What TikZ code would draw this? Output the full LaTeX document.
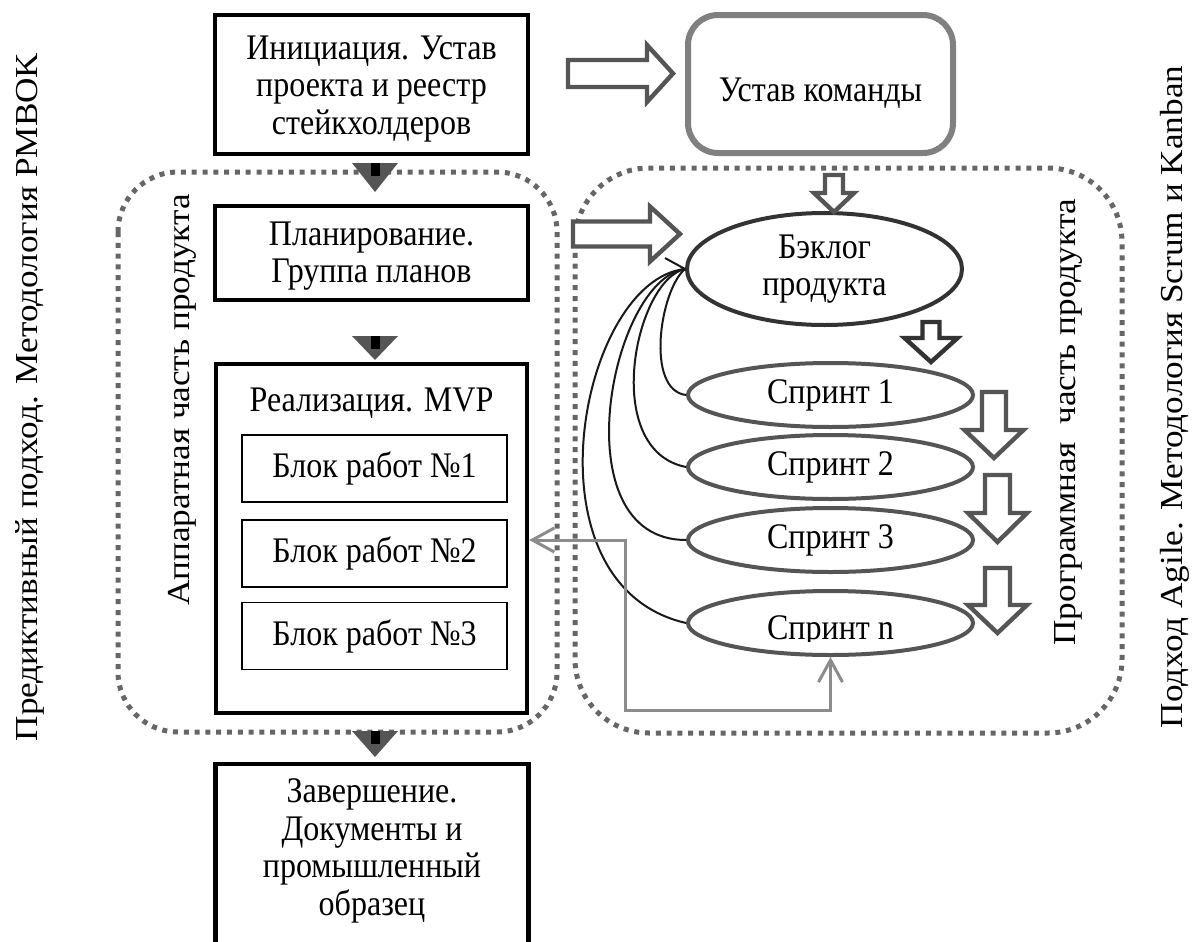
\documentclass[tikz,border=0pt]{standalone}
\usepackage{fontspec}
\setmainfont{Liberation Serif}
\newfontfamily\hfont[FakeStretch=0.89]{Liberation Serif}
\newfontfamily\vfont[FakeStretch=1.1]{Liberation Serif}
\usetikzlibrary{arrows.meta,shapes.geometric}
\definecolor{dotgray}{HTML}{666666}
\definecolor{arrgray}{HTML}{555555}
\definecolor{dkgray}{HTML}{333333}
\definecolor{ustgray}{HTML}{808080}
\definecolor{congray}{HTML}{8C8C8C}
\newcommand\mainfs{\hfont\fontsize{18pt}{18.75pt}\selectfont}
\newcommand\sidefs{\vfont\fontsize{16pt}{18.75pt}\selectfont}
% hollow block arrow pointing down: cx, shaft half, head half, ytop, yneck, ytip, style
\newcommand\HArrowDown[7]{\draw[#7] ({#1-#2},#4) -- ({#1+#2},#4) -- ({#1+#2},#5) -- ({#1+#3},#5) -- (#1,#6) -- ({#1-#3},#5) -- ({#1-#2},#5) -- cycle;}
% hollow block arrow pointing right: cy, shaft half, head half, xleft, xneck, xtip, style
\newcommand\HArrowRight[7]{\draw[#7] (#4,{#1-#2}) -- (#5,{#1-#2}) -- (#5,{#1-#3}) -- (#6,#1) -- (#5,{#1+#3}) -- (#5,{#1+#2}) -- (#4,{#1+#2}) -- cycle;}
% filled down arrow: cx, ytop, ytip
\newcommand\FArrowDown[3]{\fill[arrgray] ({#1-23},#2) -- ({#1+23},#2) -- (#1,#3) -- cycle;
  \fill[black] ({#1-4.5},#2) rectangle ({#1+4.5},{#2+13});}
\begin{document}
\begin{tikzpicture}[x=0.5pt,y=-0.5pt,
  every node/.style={font=\mainfs},
  sidetext/.style={rotate=90,font=\sidefs},
  thickbox/.style={draw=black,line width=2.2pt,minimum width=156.5pt,inner sep=0pt},
  thinbox/.style={draw=black,line width=0.75pt,minimum width=132.5pt,minimum height=33.5pt,inner sep=0pt},
  dotbox/.style={draw=dotgray,line width=2.5pt,dash pattern=on 2.5pt off 2.9pt},
  sprint/.style={ellipse,draw=arrgray,line width=2pt,minimum width=142.5pt,minimum height=32pt,inner sep=0pt},
  hollow/.style={draw=arrgray,line width=2.2pt,fill=white,line join=miter},
  hollowdk/.style={draw=dkgray,line width=2.2pt,fill=white,line join=miter},
  curveline/.style={draw=black!90,line width=1pt},
  gconn/.style={draw=congray,line width=1.5pt,{Straight Barb[length=11pt,width=12pt]}-{Straight Barb[length=11pt,width=12pt]}}
]
\fill[white] (0,0) rectangle (1200,942);
\useasboundingbox (0,0) rectangle (1200,942);

% dotted regions
\draw[dotbox,rounded corners=30pt] (118,172) rectangle (557,732);
\draw[dotbox,rounded corners=37pt] (575,168) rectangle (1122,733);

% side texts
\node[sidetext] (lside) at (30,397) {Предиктивный подход. Методология PMBOK};
\node[sidetext] (rside) at (1175,397) {Подход Agile. Методология Scrum и Kanban};
\node[sidetext] (hw) at (182,400) {Аппаратная часть продукта};
\node[sidetext] (sw) at (1068,422) {Программная\ \ часть продукта};

% left column
\node[thickbox,minimum height=69.5pt] (init) at (371.5,84.5) {};
\node[align=center,inner sep=0pt] (inittxt) at (371.5,89) {Инициация. Устав\\проекта и реестр\\стейкхолдеров};
\node[thickbox,minimum height=47pt] (plan) at (371.5,253) {};
\node[align=center,inner sep=0pt] (plantxt) at (371.5,256) {Планирование.\\Группа планов};
\node[thickbox,minimum width=155.5pt,minimum height=174.5pt] (real) at (371.5,538.5) {};
\node (realtxt) at (371.5,403) {Реализация. MVP};
\node[thinbox] (b1) at (374.5,468.5) {Блок работ №1};
\node[thinbox] (b2) at (374.5,553.5) {Блок работ №2};
\node[thinbox] (b3) at (374.5,636) {Блок работ №3};
\node[thickbox,minimum height=100pt,anchor=north] (fin) at (372,762) {};
\node[align=center,inner sep=0pt] (fintxt) at (372,851) {Завершение.\\Документы и\\промышленный\\образец};

\FArrowDown{375}{163}{192}
\FArrowDown{375}{336}{360}
\FArrowDown{375}{731}{757}

% team charter
\node[draw=ustgray,line width=3pt,rounded corners=15pt,minimum width=132.5pt,minimum height=69pt] (ust) at (820.5,84) {};
\node (usttxt) at (820.5,93) {Устав команды};
\HArrowRight{73.5}{13.5}{28.5}{568}{647}{673}{hollow}

% backlog and sprints
\node[ellipse,draw=dkgray,line width=2pt,minimum width=137.5pt,minimum height=56pt,inner sep=0pt] (blog) at (824.5,269) {};
\node[align=center,inner sep=0pt] (blogtxt) at (824.5,269) {Бэклог\\продукта};
\HArrowRight{234}{12.5}{27.5}{573}{650}{680}{hollow}
\HArrowDown{834}{9}{20}{175}{193}{212}{hollow}
\HArrowDown{931}{8.5}{26.5}{322}{338}{362}{hollowdk}

\node[sprint] (s1) at (830.5,395) {Спринт 1};
\node[sprint] (s2) at (830.5,467) {Спринт 2};
\node[sprint] (s3) at (830.5,540) {Спринт 3};
\node[sprint] (sn) at (830.5,623) {};
\begin{scope}
\clip (600,560) rectangle (1000,641);
\node[anchor=base] (sntxt) at (830.5,639) {Спринт n};
\end{scope}

\HArrowDown{994}{12}{29.5}{392}{430}{458}{hollow}
\HArrowDown{997.5}{12.5}{29.5}{475}{513}{542}{hollow}
\HArrowDown{997.5}{12.5}{29.5}{568}{605}{633}{hollow}

% curved links
\draw[curveline] (blog.west) .. controls (660,290) and (645,390) .. (s1.west);
\draw[curveline] (blog.west) .. controls (635,280) and (600,450) .. (s2.west);
\draw[curveline] (blog.west) .. controls (610,280) and (560,540) .. (s3.west);
\draw[curveline] (blog.west) .. controls (580,280) and (520,585) .. (sn.west);
\coordinate (stub) at (665,258);
\draw[curveline] (stub) -- (blog.west);

% gray feedback connector
\draw[gconn] (sn.south) |- (625,710) |- (real.east |- s3.west);
\end{tikzpicture}
\end{document}
